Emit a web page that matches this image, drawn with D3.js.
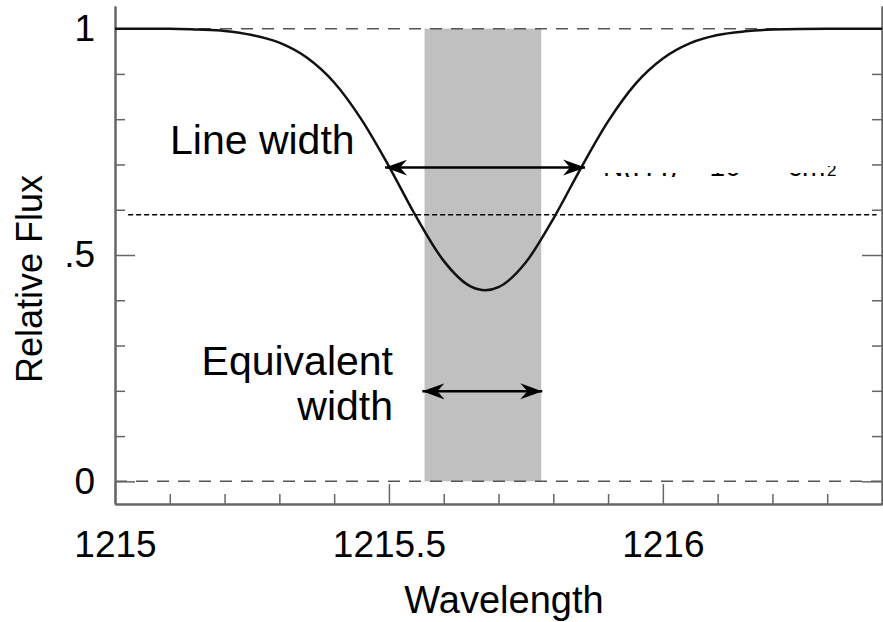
<!DOCTYPE html>
<html>
<head>
<meta charset="utf-8">
<script src="https://cdn.jsdelivr.net/npm/d3@7/dist/d3.min.js"></script>
<style>
  html, body { margin: 0; padding: 0; background: #fff; }
  svg { display: block; }
  text { font-family: "Liberation Sans", Arial, Helvetica, sans-serif; fill: #000; }
</style>
</head>
<body>
<svg id="chart" width="883" height="622"></svg>
<script>
// ---- data ----
const wavelength = [1215.00, 1215.10, 1215.15, 1215.20, 1215.25, 1215.30, 1215.35, 1215.40, 1215.45,
                    1215.50, 1215.55, 1215.60, 1215.65, 1215.676, 1215.70, 1215.75, 1215.80, 1215.85,
                    1215.90, 1215.95, 1216.00, 1216.05, 1216.10, 1216.15, 1216.20, 1216.30, 1216.40];
const flux = [1.000, 1.000, 0.998, 0.995, 0.986, 0.969, 0.936, 0.881, 0.799,
              0.696, 0.584, 0.487, 0.430, 0.422, 0.429, 0.484, 0.580, 0.691,
              0.795, 0.878, 0.934, 0.968, 0.986, 0.994, 0.998, 1.000, 1.000];

const xMinorTicks = [1215.1, 1215.2, 1215.3, 1215.4, 1215.6, 1215.7, 1215.8, 1215.9, 1216.1, 1216.2, 1216.3];
const xMajorTicks = [1215, 1215.5, 1216];
const xTickLabels = ["1215", "1215.5", "1216"];
const yMinorTicks = [0.1, 0.2, 0.3, 0.4, 0.6, 0.7, 0.8, 0.9];
const yMajorTicks = [0, 0.5, 1];
const yTickLabels = ["0", ".5", "1"];

const ewBand = [1215.565, 1215.778];          // shaded equivalent-width band (wavelength)
const lineWidthArrow = [1215.493, 1215.858, 0.693];
const eqWidthArrow = [1215.561, 1215.780, 0.199];
const thresholdLine = [1215.024, 1216.390, 0.589];
const referenceLevels = [1, 0];

// ---- layout ----
const svg = d3.select("#chart");
const mLeft = 115, mRight = 882, mTop = 6, mBottom = 504;
const x = d3.scaleLinear().domain([1215, 1216.4]).range([mLeft, mRight]);
const y = d3.scaleLinear().domain([-0.05, 1.05]).range([mBottom, mTop]);
const axisColor = "#666";

// marker
const defs = svg.append("defs");
defs.append("marker")
  .attr("id", "head")
  .attr("viewBox", "0 -9 22 18")
  .attr("refX", 22).attr("refY", 0)
  .attr("markerWidth", 22).attr("markerHeight", 18)
  .attr("markerUnits", "userSpaceOnUse")
  .attr("orient", "auto-start-reverse")
  .append("path")
  .attr("d", "M0,-8 L22,0 L0,8 L7,0 Z")
  .attr("fill", "#000");

defs.append("clipPath").attr("id", "fragclip")
  .append("rect").attr("x", 600).attr("y", 173).attr("width", 225).attr("height", 4);
defs.append("clipPath").attr("id", "fragclip2")
  .append("rect").attr("x", 820).attr("y", 166).attr("width", 30).attr("height", 11);

// shaded band
svg.append("rect")
  .attr("x", x(ewBand[0]))
  .attr("width", x(ewBand[1]) - x(ewBand[0]))
  .attr("y", y(1))
  .attr("height", y(0) - y(1))
  .attr("fill", "#c0c0c0");

// reference dashed levels
svg.selectAll("line.ref").data(referenceLevels).enter().append("line")
  .attr("class", "ref")
  .attr("x1", mLeft).attr("x2", mRight)
  .attr("y1", d => y(d)).attr("y2", d => y(d))
  .attr("stroke", "#555").attr("stroke-width", 1.5)
  .attr("stroke-dasharray", "12,9");

// axes
const gx = svg.append("g").attr("transform", `translate(0,${mBottom})`);
gx.call(d3.axisBottom(x).tickValues(xMinorTicks).tickSizeInner(-10).tickSizeOuter(0).tickFormat(""));
const gxMaj = svg.append("g").attr("transform", `translate(0,${mBottom})`);
gxMaj.call(d3.axisBottom(x).tickValues(xMajorTicks).tickSizeInner(-20).tickSizeOuter(0).tickPadding(27)
  .tickFormat((d, i) => xTickLabels[i]));

const gy = svg.append("g").attr("transform", `translate(${mLeft},0)`);
gy.call(d3.axisLeft(y).tickValues(yMinorTicks).tickSizeInner(-10).tickSizeOuter(0).tickFormat(""));
const gyMaj = svg.append("g").attr("transform", `translate(${mLeft},0)`);
gyMaj.call(d3.axisLeft(y).tickValues(yMajorTicks).tickSizeInner(-20).tickSizeOuter(0).tickPadding(20)
  .tickFormat((d, i) => yTickLabels[i]));

const gr = svg.append("g").attr("transform", `translate(${mRight},0)`);
gr.call(d3.axisRight(y).tickValues(yMinorTicks).tickSizeInner(-10).tickSizeOuter(0).tickFormat(""));
const grMaj = svg.append("g").attr("transform", `translate(${mRight},0)`);
grMaj.call(d3.axisRight(y).tickValues(yMajorTicks).tickSizeInner(-20).tickSizeOuter(0).tickFormat(""));

svg.selectAll(".domain").attr("stroke", axisColor).attr("stroke-width", 2);
svg.selectAll(".tick line").attr("stroke", axisColor).attr("stroke-width", 1.5);
svg.selectAll(".tick text")
  .attr("font-family", "Liberation Sans, Arial, sans-serif")
  .attr("font-size", 37).attr("fill", "#000");

// threshold dashed line
svg.append("line")
  .attr("x1", x(thresholdLine[0])).attr("x2", x(thresholdLine[1]))
  .attr("y1", y(thresholdLine[2])).attr("y2", y(thresholdLine[2]))
  .attr("stroke", "#000").attr("stroke-width", 1.5)
  .attr("stroke-dasharray", "5,3");

// curve
const pts = wavelength.map((w, i) => [w, flux[i]]);
svg.append("path")
  .datum(pts)
  .attr("d", d3.line().x(d => x(d[0])).y(d => y(d[1])).curve(d3.curveMonotoneX))
  .attr("fill", "none").attr("stroke", "#111").attr("stroke-width", 2.5);

// arrows
[lineWidthArrow, eqWidthArrow].forEach(a => {
  svg.append("line")
    .attr("x1", x(a[0])).attr("x2", x(a[1]))
    .attr("y1", y(a[2])).attr("y2", y(a[2]))
    .attr("stroke", "#000").attr("stroke-width", 2.5)
    .attr("marker-start", "url(#head)").attr("marker-end", "url(#head)");
});

// partially erased annotation fragment
svg.append("text").attr("clip-path", "url(#fragclip)")
  .attr("x", 603).attr("y", 176).attr("font-size", 28).attr("fill", "#888")
  .text("N(H I) = 10¹³·⁵ cm");
svg.append("text").attr("clip-path", "url(#fragclip2)")
  .attr("x", 827).attr("y", 176).attr("font-size", 17).attr("fill", "#888")
  .text("2");

// annotations
svg.append("text").attr("x", 170).attr("y", 154).attr("font-size", 41).text("Line width");
svg.append("text").attr("x", 393).attr("y", 375).attr("font-size", 41).attr("text-anchor", "end").text("Equivalent");
svg.append("text").attr("x", 393).attr("y", 420).attr("font-size", 41).attr("text-anchor", "end").text("width");

// axis titles
svg.append("text").attr("x", 504).attr("y", 613).attr("font-size", 38).attr("text-anchor", "middle").attr("fill", "#222").text("Wavelength");
svg.append("text").attr("transform", "translate(42,279) rotate(-90)").attr("font-size", 36)
  .attr("text-anchor", "middle").attr("fill", "#222").text("Relative Flux");
</script>
</body>
</html>
